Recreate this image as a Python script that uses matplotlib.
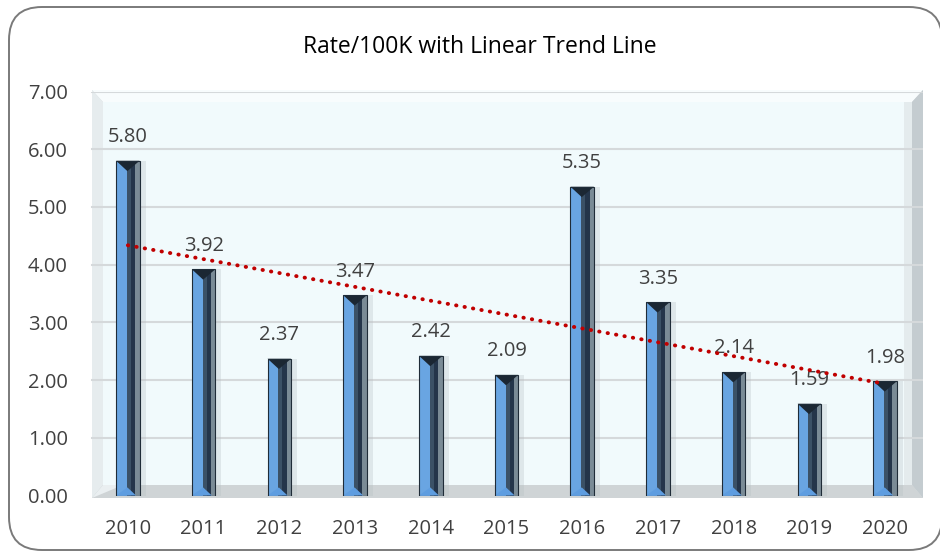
import numpy as np
import matplotlib
matplotlib.use("Agg")
import matplotlib.pyplot as plt
from matplotlib.patches import Polygon, Rectangle, FancyBboxPatch

years  = ["2010", "2011", "2012", "2013", "2014", "2015",
          "2016", "2017", "2018", "2019", "2020"]
rates  = [5.80, 3.92, 2.37, 3.47, 2.42, 2.09, 5.35, 3.35, 2.14, 1.59, 1.98]
yticks = [0, 1, 2, 3, 4, 5, 6, 7]

TITLE = "Rate/100K with Linear Trend Line"
FONT  = "Open Sans"
TXT   = "#404040"

W, H = 940, 554
plt.rcParams["font.family"] = [FONT, "DejaVu Sans"]


def fx(px):
    return px / W


def fy(py):
    return 1 - py / H


def fpoly(pts, color, z=-5):
    return Polygon([(fx(a), fy(b)) for a, b in pts], closed=True,
                   transform=fig.transFigure, facecolor=color,
                   edgecolor="none", zorder=z)


fig = plt.figure(figsize=(W / 100, H / 100), dpi=100)
fig.patch.set_facecolor("white")

# outer rounded border
border = FancyBboxPatch((fx(9), fy(550)), fx(942) - fx(9), fy(7) - fy(550),
                        boxstyle="round,pad=0,rounding_size=0.035",
                        transform=fig.transFigure, facecolor="white",
                        edgecolor="#7a7a7a", linewidth=1.4, zorder=-10,
                        mutation_aspect=W / H)
fig.patches.append(border)

# beveled 3d wall behind the plot
L, R, T, B = 92, 923, 90, 498
iL, iR, iT, iB = 103, 912, 102, 485
fig.patches.append(fpoly([(L, T), (R, T), (R, B), (L, B)], "#d8dee0"))
fig.patches.append(fpoly([(iL, iT), (iR, iT), (iR, iB), (iL, iB)], "#f1fafc"))
fig.patches.append(fpoly([(L, T), (R, T), (iR, iT), (iL, iT)], "#f8fcfd"))
fig.patches.append(fpoly([(L, T), (iL, iT), (iL, iB), (L, B)], "#e6ecee"))
fig.patches.append(fpoly([(R, T), (R, B), (iR, iB), (iR, iT)], "#c4ccd0"))
fig.patches.append(fpoly([(iR - 8, iT), (iR, iT), (iR, iB), (iR - 8, iB)], "#e4ebed"))
fig.patches.append(fpoly([(L, B), (R, B), (iR, iB), (iL, iB)], "#cfd4d6"))
fig.patches.append(fpoly([(L, B), (iL + 20, iB), (iL, iB)], "#eaeff1"))

ax = fig.add_axes([fx(90), fy(495.5), fx(923) - fx(90), fy(91.5) - fy(495.5)])
ax.patch.set_alpha(0)
x = np.arange(len(years))
vals = np.array(rates)
ax.set_xlim(-0.5, len(years) - 0.5)
ax.set_ylim(0, 7)

for g in yticks[1:]:
    ax.axhline(g, xmin=0.003, xmax=1, color="#d5d9db", lw=1.5, zorder=1)

# bars with bevel look
w = 0.31
x0 = x - w / 2
ax.bar(x0 + w, vals, width=0.08, align="edge", color="#b4bdc2", alpha=0.3, zorder=2)
ax.bar(x0, vals, width=w, align="edge", color="#24354a", zorder=3)
ax.bar(x0, vals, width=w * 0.46, align="edge", color="#69a5e2", zorder=3)
ax.bar(x0 + w * 0.46, vals, width=w * 0.17, align="edge", color="#3b5166", zorder=3)
ax.bar(x0 + w * 0.81, vals, width=w * 0.19, align="edge", color="#7a8b96", zorder=3)
dt, db = 0.18, 0.14
for xi, v in zip(x0, vals):
    ax.add_patch(Polygon([(xi, v), (xi + w, v), (xi + w * 0.48, v - dt)],
                         closed=True, facecolor="#1b2733", edgecolor="none", zorder=4))
    ax.add_patch(Polygon([(xi, 0), (xi + w * 0.85, 0), (xi + w * 0.48, db)],
                         closed=True, facecolor="#5e9de0", edgecolor="none", zorder=4))
    ax.add_patch(Rectangle((xi, 0), w, v, facecolor="none", edgecolor="#1f2c38",
                           lw=0.8, zorder=5))

for xi, v in zip(x, vals):
    ax.annotate(f"{v:.2f}", (xi, v), xytext=(0, 17), textcoords="offset points",
                ha="center", va="center", fontsize=14.5, color=TXT, zorder=6)

# linear trend line
k, b0 = np.polyfit(x, vals, 1)
ax.plot(x[[0, -1]], k * x[[0, -1]] + b0, color="#c00000", lw=2.8,
        linestyle=(0, (0.1, 2.1)), dash_capstyle="round", zorder=7)

ax.set_xticks(x)
ax.set_xticklabels(years)
ax.set_yticks(yticks)
ax.set_yticklabels([f"{t:.2f}" for t in yticks])
ax.tick_params(axis="both", length=0, labelsize=14.5, labelcolor=TXT)
ax.tick_params(axis="x", pad=17)
ax.tick_params(axis="y", pad=16)
for s in ax.spines.values():
    s.set_visible(False)

fig.text(fx(480), fy(53), TITLE, ha="center", va="baseline",
         fontsize=16.5, color="#000000")

fig.savefig("out.png", dpi=100)
